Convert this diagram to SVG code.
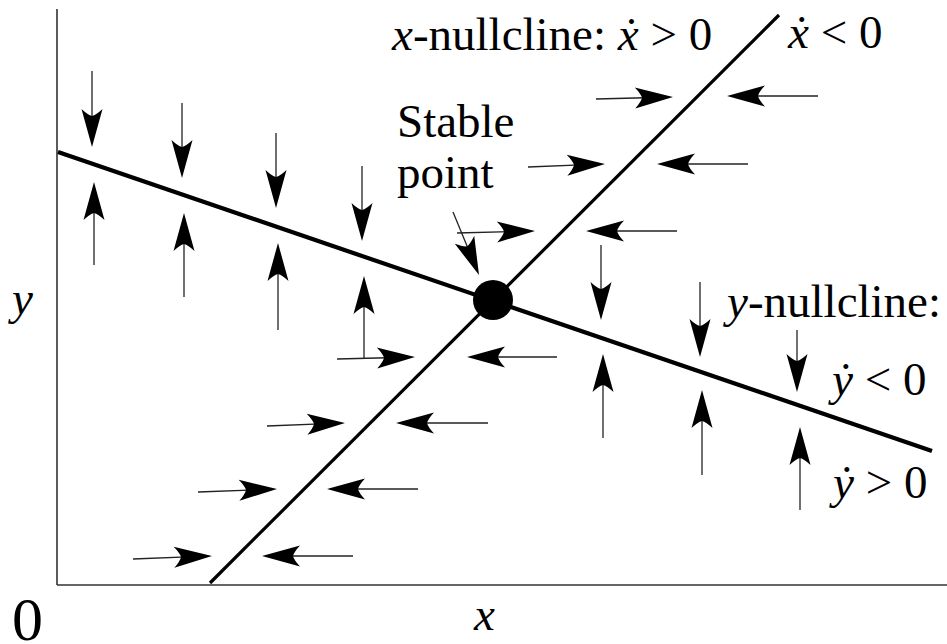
<svg xmlns="http://www.w3.org/2000/svg" xmlns:xlink="http://www.w3.org/1999/xlink" width="947" height="644" viewBox="0 0 947 644">
<defs>
<path id="hd" d="M0,0 L-38,-10.5 Q-32,-4 -31,0 Q-32,4 -38,10.5 Z" fill="#000"/>
<style>
.ax{stroke:#333;stroke-width:1.6;fill:none}
.nc{stroke:#000;fill:none;stroke-linecap:butt}
.sh{stroke:#222;stroke-width:1.3;fill:none}
</style>
</defs>
<rect width="947" height="644" fill="#fff"/>
<g id="axes">
<line class="ax" x1="57" y1="9" x2="57" y2="585"/>
<line class="ax" x1="57" y1="585" x2="947" y2="585"/>
</g>
<g id="nullclines">
<line class="nc" x1="58" y1="152" x2="932" y2="451" stroke-width="4.2"/>
<line class="nc" x1="210" y1="583" x2="779" y2="15" stroke-width="3.2"/>
</g>
<g id="connectors">
<g class="sh">
<line x1="92" y1="71" x2="92" y2="130"/>
<line x1="182" y1="103" x2="182" y2="160"/>
<line x1="276" y1="133" x2="276" y2="190"/>
<line x1="362" y1="166" x2="362" y2="223"/>
<line x1="601" y1="245" x2="601" y2="302"/>
<line x1="700" y1="282" x2="700" y2="340"/>
<line x1="797" y1="330" x2="797" y2="375"/>
<line x1="94" y1="265" x2="94" y2="200"/>
<line x1="184" y1="297" x2="184" y2="231"/>
<line x1="278" y1="330" x2="278" y2="261"/>
<line x1="364" y1="359" x2="364" y2="294"/>
<line x1="603" y1="438" x2="603" y2="372"/>
<line x1="702" y1="475" x2="702" y2="408"/>
<line x1="800" y1="510" x2="800" y2="445"/>
<line x1="596" y1="99" x2="655" y2="97.5"/>
<line x1="528" y1="167" x2="587" y2="164.7"/>
<line x1="457" y1="233" x2="517" y2="231.5"/>
<line x1="337" y1="359" x2="397" y2="357.5"/>
<line x1="267" y1="426" x2="327" y2="423.7"/>
<line x1="198" y1="492" x2="259" y2="489.7"/>
<line x1="133" y1="559" x2="194" y2="556.7"/>
<line x1="818" y1="96" x2="745" y2="96"/>
<line x1="748" y1="164" x2="675" y2="164"/>
<line x1="677" y1="231" x2="604" y2="231"/>
<line x1="557" y1="357" x2="485" y2="357"/>
<line x1="488" y1="423" x2="414" y2="423"/>
<line x1="418" y1="489" x2="345" y2="489"/>
<line x1="353" y1="556" x2="280" y2="556"/>
<line x1="453" y1="212" x2="472" y2="258"/>
</g>
<use xlink:href="#hd" href="#hd" transform="translate(92,147) rotate(90)"/>
<use xlink:href="#hd" href="#hd" transform="translate(182,178) rotate(90)"/>
<use xlink:href="#hd" href="#hd" transform="translate(276,208) rotate(90)"/>
<use xlink:href="#hd" href="#hd" transform="translate(362,241) rotate(90)"/>
<use xlink:href="#hd" href="#hd" transform="translate(601,320) rotate(90)"/>
<use xlink:href="#hd" href="#hd" transform="translate(700,357) rotate(90)"/>
<use xlink:href="#hd" href="#hd" transform="translate(797,392) rotate(90)"/>
<use xlink:href="#hd" href="#hd" transform="translate(94,182) rotate(-90)"/>
<use xlink:href="#hd" href="#hd" transform="translate(184,213) rotate(-90)"/>
<use xlink:href="#hd" href="#hd" transform="translate(278,243) rotate(-90)"/>
<use xlink:href="#hd" href="#hd" transform="translate(364,276) rotate(-90)"/>
<use xlink:href="#hd" href="#hd" transform="translate(603,354) rotate(-90)"/>
<use xlink:href="#hd" href="#hd" transform="translate(702,390) rotate(-90)"/>
<use xlink:href="#hd" href="#hd" transform="translate(800,427) rotate(-90)"/>
<use xlink:href="#hd" href="#hd" transform="translate(673,97) rotate(-1.5)"/>
<use xlink:href="#hd" href="#hd" transform="translate(605,164) rotate(-2)"/>
<use xlink:href="#hd" href="#hd" transform="translate(535,231) rotate(-1.5)"/>
<use xlink:href="#hd" href="#hd" transform="translate(415,357) rotate(-1.5)"/>
<use xlink:href="#hd" href="#hd" transform="translate(345,423) rotate(-2)"/>
<use xlink:href="#hd" href="#hd" transform="translate(277,489) rotate(-2)"/>
<use xlink:href="#hd" href="#hd" transform="translate(212,556) rotate(-2)"/>
<use xlink:href="#hd" href="#hd" transform="translate(727,96) rotate(180)"/>
<use xlink:href="#hd" href="#hd" transform="translate(657,164) rotate(180)"/>
<use xlink:href="#hd" href="#hd" transform="translate(586,231) rotate(180)"/>
<use xlink:href="#hd" href="#hd" transform="translate(467,357) rotate(180)"/>
<use xlink:href="#hd" href="#hd" transform="translate(396,423) rotate(180)"/>
<use xlink:href="#hd" href="#hd" transform="translate(327,489) rotate(180)"/>
<use xlink:href="#hd" href="#hd" transform="translate(262,556) rotate(180)"/>
<use xlink:href="#hd" href="#hd" transform="translate(479,275) rotate(67.6)"/>
</g>
<g id="stable-point">
<circle cx="493" cy="300" r="20" fill="#000"/>
</g>
<g id="labels" font-family="Liberation Serif, Times New Roman, serif" font-size="47" fill="#000">
<text x="392" y="50" xml:space="preserve"><tspan font-style="italic">x</tspan>-nullcline: <tspan font-style="italic">ẋ</tspan> &gt; 0</text>
<text x="788" y="48" xml:space="preserve"><tspan font-style="italic">ẋ</tspan> &lt; 0</text>
<text x="397" y="137">Stable</text>
<text x="397" y="188">point</text>
<text x="727" y="317"><tspan font-style="italic">y</tspan>-nullcline:</text>
<text x="832" y="395" xml:space="preserve"><tspan font-style="italic">ẏ</tspan> &lt; 0</text>
<text x="833" y="498" xml:space="preserve"><tspan font-style="italic">ẏ</tspan> &gt; 0</text>
<text font-style="italic" x="12" y="314">y</text>
<text font-style="italic" x="474" y="630">x</text>
<text x="12" y="640" font-size="62">0</text>
</g>
</svg>
